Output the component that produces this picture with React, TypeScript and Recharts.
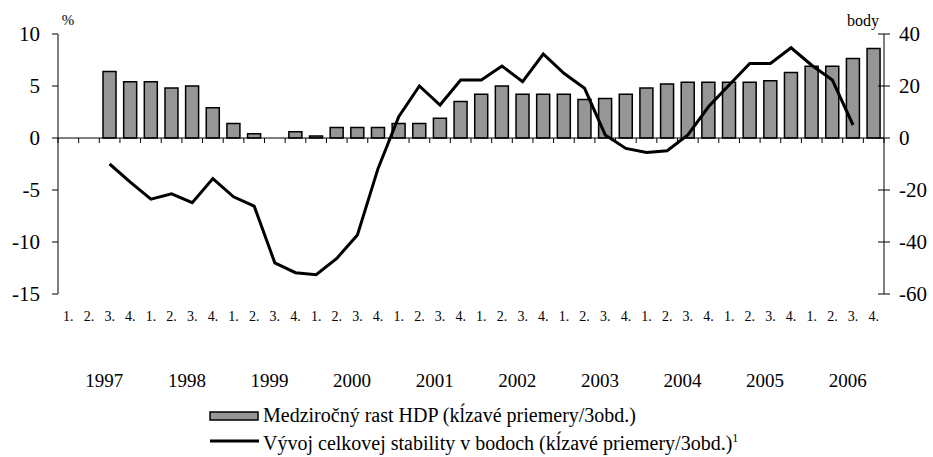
import {
  ComposedChart,
  Bar,
  Line,
  XAxis,
  YAxis,
  ReferenceLine,
  Legend,
} from "recharts";

const YEARS = ["1997", "1998", "1999", "2000", "2001", "2002", "2003", "2004", "2005", "2006"];
const QUARTER_LABELS = ["1.", "2.", "3.", "4."];

// medzirocny rast HDP, % (lava os)
const gdpGrowth = [
  null, null, 6.4, 5.4,
  5.4, 4.8, 5.0, 2.9,
  1.4, 0.4, null, 0.6,
  0.2, 1.0, 1.0, 1.0,
  1.4, 1.4, 1.9, 3.5,
  4.2, 5.0, 4.2, 4.2,
  4.2, 3.7, 3.8, 4.2,
  4.8, 5.2, 5.35, 5.35,
  5.35, 5.35, 5.5, 6.3,
  6.9, 6.9, 7.65, 8.6,
];

// vyvoj celkovej stability, body (prava os)
const stability = [
  null, null, -10, -17,
  -23.5, -21.5, -24.9, -15.6,
  -22.6, -26.2, -48, -51.8,
  -52.6, -46.3, -37.3, -11.7,
  8.2, 20, 12.7, 22.3,
  22.3, 27.7, 21.7, 32.3,
  24.9, 19.1, 1.2, -4.0,
  -5.6, -4.9, 1.2, 12,
  20.4, 28.7, 28.7, 34.7,
  28, 22.3, 5.0, null,
];

const leftTicks = [10, 5, 0, -5, -10, -15];
const rightTicks = [40, 20, 0, -20, -40, -60];

const data = gdpGrowth.map((g, i) => ({
  id: `${YEARS[Math.floor(i / 4)]}-${QUARTER_LABELS[i % 4]}`,
  gdp: g,
  stab: stability[i],
}));

const FONT = '"Liberation Serif", "Times New Roman", serif';
const W = 933;
const H = 457;
const PLOT_TOP = 34;
const PLOT_BOTTOM = 294;
const PLOT_LEFT = 58;
const PLOT_RIGHT = 884;
const N = data.length;
const BAND = (PLOT_RIGHT - PLOT_LEFT) / N;
const LEFT_MAX = 10;
const LEFT_MIN = -15;
const ZERO_Y = PLOT_TOP + ((PLOT_BOTTOM - PLOT_TOP) * LEFT_MAX) / (LEFT_MAX - LEFT_MIN);

const QuarterTick = (props: any) => {
  const { x, payload } = props;
  const i = payload.index;
  const left = x - BAND / 2;
  return (
    <g>
      <line x1={left} y1={ZERO_Y} x2={left} y2={ZERO_Y + 5} stroke="#000" />
      {i === N - 1 && (
        <line x1={left + BAND} y1={ZERO_Y} x2={left + BAND} y2={ZERO_Y + 5} stroke="#000" />
      )}
      <text x={x} y={PLOT_BOTTOM + 27} textAnchor="middle" fontSize={14} fontFamily={FONT} fill="#000">
        {QUARTER_LABELS[i % 4]}
      </text>
      {i % 4 === 1 && (
        <text x={x + BAND / 2 + 5} y={PLOT_BOTTOM + 93} textAnchor="middle" fontSize={19} fontFamily={FONT} fill="#000">
          {YEARS[Math.floor(i / 4)]}
        </text>
      )}
    </g>
  );
};

const RightTick = (props: any) => {
  const { y, payload } = props;
  return (
    <g>
      <line x1={PLOT_RIGHT - 6} x2={PLOT_RIGHT + 6} y1={y} y2={y} stroke="#000" />
      <text x={PLOT_RIGHT + 15} y={y} dy="0.35em" textAnchor="start" fontSize={21} fontFamily={FONT} fill="#000">
        {payload.value}
      </text>
    </g>
  );
};

const LegendBox = (props: any) => {
  const { payload } = props;
  return (
    <div style={{ fontFamily: FONT, fontSize: 20, color: "#000", lineHeight: "23px" }}>
      {payload.map((entry: any) => (
        <div key={entry.value} style={{ display: "flex", alignItems: "center", whiteSpace: "nowrap" }}>
          <svg width={52} height={12} style={{ marginRight: 2 }}>
            {entry.type === "line" ? (
              <line x1={1} x2={50} y1={6} y2={6} stroke="#000" strokeWidth={3} />
            ) : (
              <rect x={1} y={2} width={48} height={8} fill="#969696" stroke="#000" strokeWidth={1.5} />
            )}
          </svg>
          <span>
            {entry.value}
            {entry.type === "line" && <sup style={{ fontSize: 12 }}>1</sup>}
          </span>
        </div>
      ))}
    </div>
  );
};

const App = () => {
  return (
    <div style={{ position: "absolute", left: 0, top: 0, width: W, height: H, background: "#fff" }}>
      <ComposedChart
        width={W}
        height={H}
        data={data}
        margin={{ top: PLOT_TOP, right: W - PLOT_RIGHT - 45, left: PLOT_LEFT - 50, bottom: H - PLOT_BOTTOM - 30 }}
        barCategoryGap="18%"
      >
        <XAxis
          dataKey="id"
          xAxisId="q"
          height={30}
          interval={0}
          axisLine={false}
          tickLine={false}
          tick={<QuarterTick />}
        />
        <YAxis
          yAxisId="left"
          orientation="left"
          width={50}
          domain={[LEFT_MIN, LEFT_MAX]}
          ticks={leftTicks}
          interval={0}
          axisLine={{ stroke: "#000" }}
          tickLine={{ stroke: "#000" }}
          tickSize={6}
          tickMargin={12}
          tick={{ fill: "#000", fontSize: 21, fontFamily: FONT }}
          label={{
            content: ({ viewBox }: any) => (
              <text x={viewBox.x + viewBox.width + 10} y={viewBox.y - 9} textAnchor="middle" fontSize={15} fontFamily={FONT} fill="#000">
                %
              </text>
            ),
          }}
        />
        <YAxis
          yAxisId="right"
          orientation="right"
          width={45}
          domain={[-60, 40]}
          ticks={rightTicks}
          interval={0}
          axisLine={{ stroke: "#000" }}
          tickLine={false}
          tick={<RightTick />}
          label={{
            content: ({ viewBox }: any) => (
              <text x={viewBox.x - 5} y={viewBox.y - 8} textAnchor="end" fontSize={16} fontFamily={FONT} fill="#000">
                body
              </text>
            ),
          }}
        />
        <ReferenceLine y={0} yAxisId="left" xAxisId="q" stroke="#000" strokeWidth={1} />
        <Bar
          dataKey="gdp"
          name="Medziročný rast HDP (kĺzavé priemery/3obd.)"
          xAxisId="q"
          yAxisId="left"
          fill="#969696"
          stroke="#000"
          strokeWidth={1.5}
          legendType="rect"
          isAnimationActive={false}
        />
        <Line
          dataKey="stab"
          name="Vývoj celkovej stability v bodoch (kĺzavé priemery/3obd.)"
          xAxisId="q"
          yAxisId="right"
          type="linear"
          stroke="#000"
          strokeWidth={3}
          dot={false}
          legendType="line"
          isAnimationActive={false}
        />
        <Legend
          layout="horizontal"
          verticalAlign="middle"
          align="center"
          content={<LegendBox />}
          wrapperStyle={{ top: 404, left: 209, width: "auto", height: "auto" }}
        />
      </ComposedChart>
    </div>
  );
};

export default App;
